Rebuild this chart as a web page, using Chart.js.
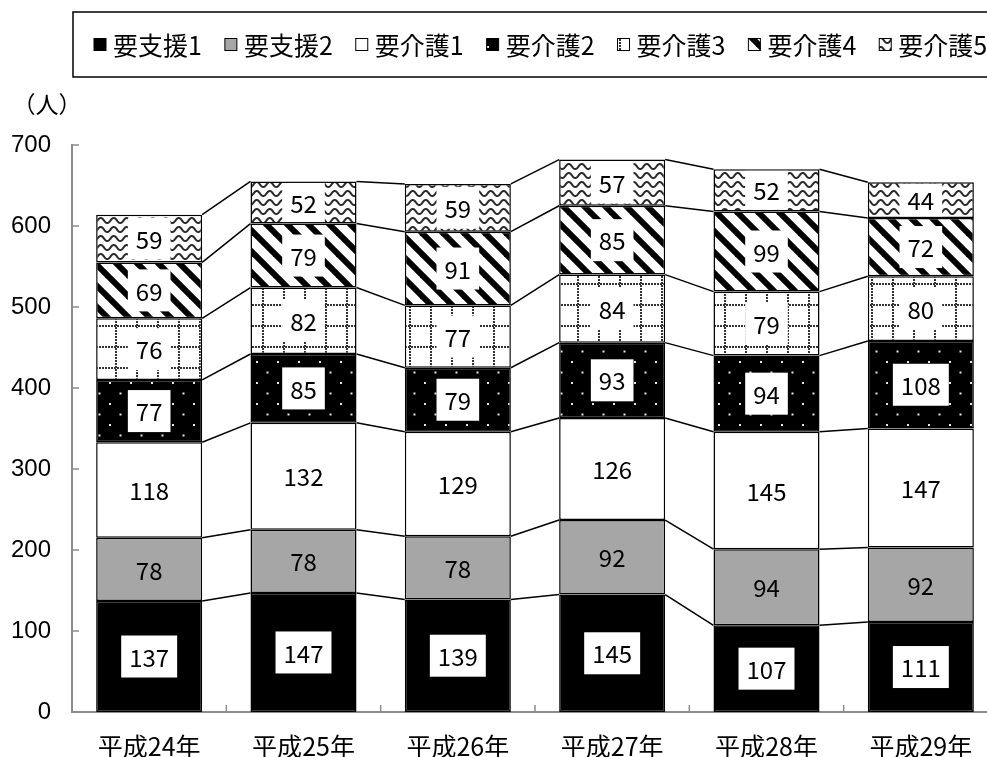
<!DOCTYPE html>
<html>
<head>
<meta charset="utf-8">
<script src="https://cdn.jsdelivr.net/npm/chart.js@4.4.0/dist/chart.umd.min.js"></script>
<style>
  html, body { margin: 0; padding: 0; background: #fff; overflow: hidden; }
  #wrap { width: 987px; height: 757px; overflow: hidden; }
  canvas { display: block; }
</style>
</head>
<body>
<div id="wrap"><canvas id="careChart" width="998" height="770"></canvas></div>
<script>
var years = ['平成24年', '平成25年', '平成26年', '平成27年', '平成28年', '平成29年'];
var shien1 = [137, 147, 139, 145, 107, 111];
var shien2 = [78, 78, 78, 92, 94, 92];
var kaigo1 = [118, 132, 129, 126, 145, 147];
var kaigo2 = [77, 85, 79, 93, 94, 108];
var kaigo3 = [76, 82, 77, 84, 79, 80];
var kaigo4 = [69, 79, 91, 85, 99, 72];
var kaigo5 = [59, 52, 59, 57, 52, 44];
var yMax = 700;
var yStep = 100;

var canvas = document.getElementById('careChart');
var ctx = canvas.getContext('2d');

// small repeating tiles for the hatched fills
function makeTile(w, h, paint) {
    var c = document.createElement('canvas');
    c.width = w;
    c.height = h;
    paint(c.getContext('2d'), w, h);
    return ctx.createPattern(c, 'repeat');
}

var dotFill = makeTile(21, 21, function (g, w, h) {
    g.fillStyle = '#000';
    g.fillRect(0, 0, w, h);
    g.fillStyle = '#e6e6e6';
    g.fillRect(4, 4, 2, 2);
    g.fillRect(14.5, 14.5, 2, 2);
});

var gridFill = makeTile(21, 21, function (g, w, h) {
    g.fillStyle = '#fff';
    g.fillRect(0, 0, w, h);
    g.fillStyle = '#333';
    for (var i = 0; i < 21; i += 3) {
        g.fillRect(i, 10, 2, 2);
        g.fillRect(10, i, 2, 2);
    }
});

var stripeFill = makeTile(21, 21, function (g, w, h) {
    g.fillStyle = '#fff';
    g.fillRect(0, 0, w, h);
    g.strokeStyle = '#000';
    g.lineWidth = 6;
    [-21, 0, 21].forEach(function (k) {
        g.beginPath();
        g.moveTo(k - 3, -3);
        g.lineTo(k + 24, 24);
        g.stroke();
    });
});

var waveFill = makeTile(13, 9, function (g, w, h) {
    g.fillStyle = '#fff';
    g.fillRect(0, 0, w, h);
    g.strokeStyle = '#2a2a2a';
    g.lineWidth = 2;
    g.beginPath();
    for (var x = -1; x <= w + 1; x += 0.5) {
        var y = 4.5 + 2.6 * Math.sin(x / w * 2 * Math.PI);
        if (x === -1) g.moveTo(x, y); else g.lineTo(x, y);
    }
    g.stroke();
});

function series(label, data, fill, labelBox) {
    return {
        label: label,
        data: data,
        backgroundColor: fill,
        borderColor: '#000',
        borderWidth: 1.5,
        borderSkipped: false,
        labelBox: labelBox
    };
}

// lines joining the top of each segment to the same segment in the next bar
var seriesLines = {
    id: 'seriesLines',
    afterDatasetsDraw: function (chart) {
        var c = chart.ctx;
        c.save();
        c.strokeStyle = '#000';
        c.lineWidth = 1.5;
        chart.data.datasets.forEach(function (ds, di) {
            var bars = chart.getDatasetMeta(di).data;
            c.beginPath();
            for (var i = 0; i < bars.length - 1; i++) {
                c.moveTo(bars[i].x + bars[i].width / 2, bars[i].y);
                c.lineTo(bars[i + 1].x - bars[i + 1].width / 2, bars[i + 1].y);
            }
            c.stroke();
        });
        c.restore();
    }
};

var dataLabels = {
    id: 'dataLabels',
    afterDatasetsDraw: function (chart) {
        var c = chart.ctx;
        c.save();
        c.font = '24px "Noto Sans CJK JP"';
        c.textAlign = 'center';
        c.textBaseline = 'middle';
        chart.data.datasets.forEach(function (ds, di) {
            chart.getDatasetMeta(di).data.forEach(function (bar, i) {
                var txt = String(ds.data[i]);
                var cy = (bar.y + bar.base) / 2;
                if (ds.labelBox) {
                    var w = c.measureText(txt).width + 16;
                    var h = Math.min(42, bar.base - bar.y - 3);
                    c.fillStyle = '#fff';
                    c.fillRect(bar.x - w / 2, cy - h / 2, w, h);
                }
                c.fillStyle = '#000';
                c.fillText(txt, bar.x, cy + 1);
            });
        });
        c.restore();
    }
};

// framed legend row, unit caption and the inward tick marks
var chrome = {
    id: 'chrome',
    afterDraw: function (chart) {
        var c = chart.ctx;
        var area = chart.chartArea;
        var xs = chart.scales.x;
        var ys = chart.scales.y;
        c.save();

        c.strokeStyle = '#000';
        c.lineWidth = 1.5;
        c.strokeRect(area.left + 1, 12, 1000, 65);
        c.font = '25px "Noto Sans CJK JP"';
        c.textBaseline = 'middle';
        var lx = area.left + 22;
        var ly = 44.5;
        chart.data.datasets.forEach(function (ds) {
            c.fillStyle = ds.backgroundColor;
            c.fillRect(lx, ly - 6, 12, 12);
            c.lineWidth = 1;
            c.strokeRect(lx, ly - 6, 12, 12);
            c.fillStyle = '#000';
            c.fillText(ds.label, lx + 19, ly + 1);
            lx += 19 + c.measureText(ds.label).width + 23;
        });

        c.font = '23px "Noto Sans CJK JP"';
        c.textAlign = 'center';
        c.fillText('（人）', area.left - 25, area.top - 41);

        c.strokeStyle = '#8c8c8c';
        c.lineWidth = 1.5;
        c.beginPath();
        ys.ticks.forEach(function (t) {
            var y = ys.getPixelForValue(t.value);
            c.moveTo(area.left, y);
            c.lineTo(area.left + 7, y);
        });
        for (var k = 1; k < years.length; k++) {
            var bx = (xs.getPixelForValue(k - 1) + xs.getPixelForValue(k)) / 2;
            c.moveTo(bx, area.bottom);
            c.lineTo(bx, area.bottom - 7);
        }
        c.stroke();
        c.restore();
    }
};

new Chart(ctx, {
    type: 'bar',
    data: {
        labels: years,
        datasets: [
            series('要支援1', shien1, '#000', true),
            series('要支援2', shien2, '#a6a6a6', false),
            series('要介護1', kaigo1, '#fff', false),
            series('要介護2', kaigo2, dotFill, true),
            series('要介護3', kaigo3, gridFill, true),
            series('要介護4', kaigo4, stripeFill, true),
            series('要介護5', kaigo5, waveFill, true)
        ]
    },
    options: {
        responsive: false,
        animation: false,
        layout: { padding: { top: 145, left: 0, right: 0, bottom: 0 } },
        datasets: {
            bar: { barPercentage: 0.687, categoryPercentage: 1 }
        },
        plugins: {
            legend: { display: false },
            tooltip: { enabled: false }
        },
        scales: {
            x: {
                stacked: true,
                grid: { display: false, drawTicks: false },
                border: { display: true, color: '#8c8c8c', width: 2 },
                ticks: {
                    color: '#000',
                    padding: 19,
                    font: { family: '"Noto Sans CJK JP"', size: 25 }
                },
                afterFit: function (scale) { scale.height = 58; }
            },
            y: {
                stacked: true,
                min: 0,
                max: yMax,
                grid: { display: false, drawTicks: false },
                border: { display: true, color: '#8c8c8c', width: 2 },
                ticks: {
                    stepSize: yStep,
                    color: '#000',
                    padding: 21,
                    font: { family: '"Liberation Sans"', size: 24 }
                },
                afterFit: function (scale) { scale.width = 72; }
            }
        }
    },
    plugins: [seriesLines, dataLabels, chrome]
});
</script>
</body>
</html>
